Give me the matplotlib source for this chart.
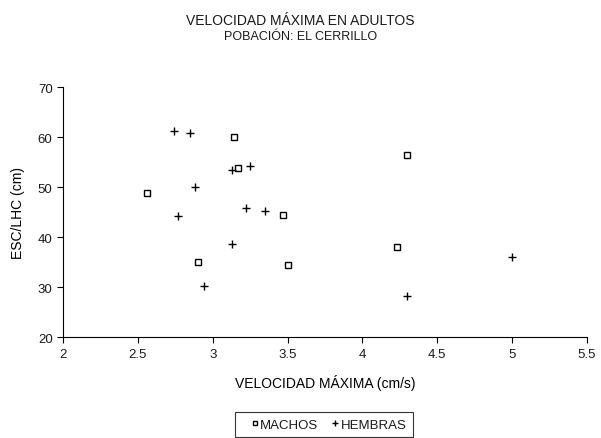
import numpy as np
import matplotlib.pyplot as plt

plt.rcParams['font.family'] = ['Liberation Sans', 'DejaVu Sans']
plt.rcParams['text.color'] = '#1a1a1a'

# --- DATA
machos_x = [2.56, 3.14, 3.17, 3.47, 2.90, 3.50, 4.30, 4.23]
machos_y = [48.8, 60.0, 53.8, 44.5, 35.1, 34.4, 56.5, 38.1]

hembras_x = [2.74, 2.85, 3.13, 3.25, 2.88, 2.77, 3.22, 3.35, 3.13, 2.94, 4.30, 5.00]
hembras_y = [61.3, 60.9, 53.5, 54.2, 50.0, 44.2, 45.9, 45.3, 38.6, 30.2, 28.3, 36.0]

xticks = [2, 2.5, 3, 3.5, 4, 4.5, 5, 5.5]
yticks = [20, 30, 40, 50, 60, 70]

# --- PLOT
fig = plt.figure(figsize=(6.01, 4.39), dpi=100)
ax = fig.add_axes([0.1048, 0.2294, 0.872, 0.570])

ax.plot(machos_x, machos_y, marker='s', linestyle='', ms=4.5, mfc='white',
        mec='black', mew=1.0, label='MACHOS')
ax.plot(hembras_x, hembras_y, marker='+', linestyle='', ms=6, mec='black',
        mew=1.0, label='HEMBRAS')

ax.set_xlim(2, 5.5)
ax.set_ylim(20, 70)
ax.set_xticks(xticks)
ax.set_xticklabels([('%g' % t) for t in xticks])
ax.set_yticks(yticks)
ax.tick_params(labelsize=9.5, length=4, width=0.8, direction='out', labelcolor='#1a1a1a')
for s in ['top', 'right']:
    ax.spines[s].set_visible(False)
for s in ['left', 'bottom']:
    ax.spines[s].set_linewidth(0.8)

ax.set_xlabel('VELOCIDAD MÁXIMA (cm/s)', fontsize=10, labelpad=10)
ax.set_ylabel('ESC/LHC (cm)', fontsize=10, labelpad=9)

fig.text(0.5, 0.952, 'VELOCIDAD MÁXIMA EN ADULTOS', ha='center', va='center', fontsize=10)
fig.text(0.5, 0.916, 'POBACIÓN: EL CERRILLO', ha='center', va='center', fontsize=9)

leg = fig.legend(loc='upper left', bbox_to_anchor=(0.391, 0.0592), ncol=2, frameon=True,
                 fancybox=False, edgecolor='black', fontsize=9.5, handlelength=2.0,
                 handletextpad=-0.6, columnspacing=0.3, borderpad=0.5,
                 borderaxespad=0, markerscale=0.75)
leg.get_frame().set_linewidth(0.8)

plt.savefig('out.png', dpi=100)
